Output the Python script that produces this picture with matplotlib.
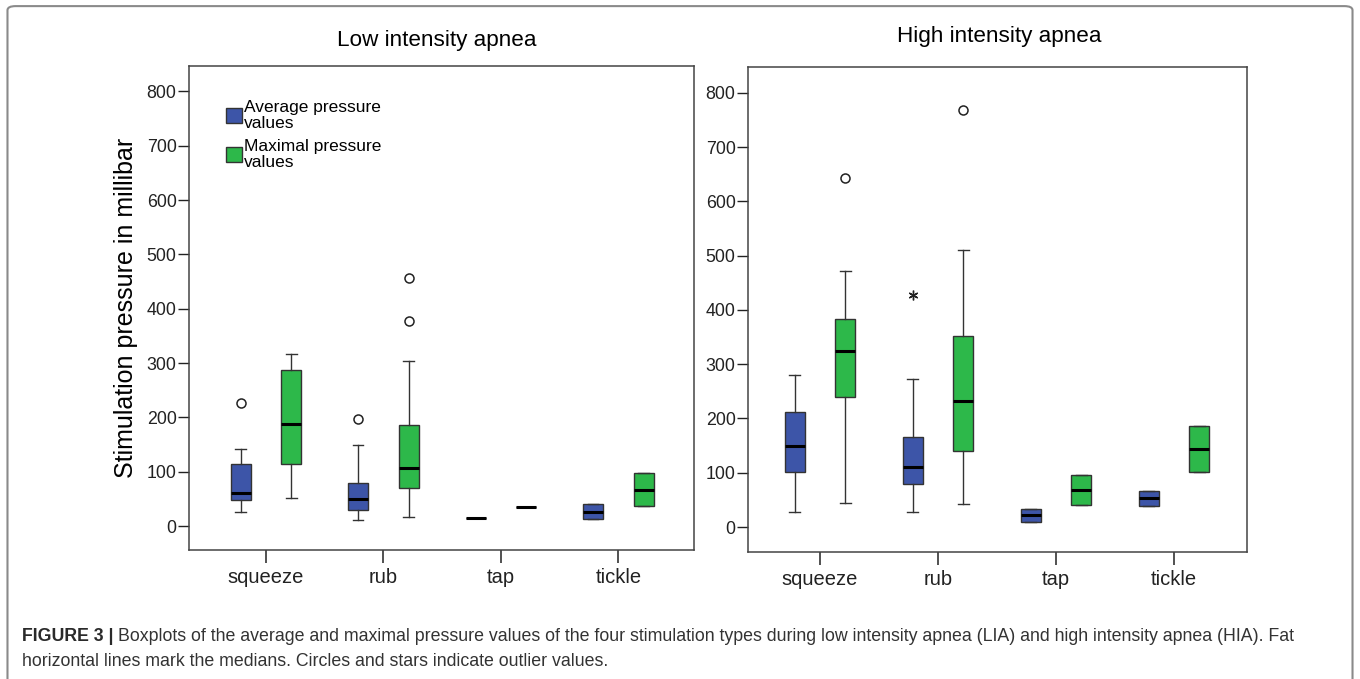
import matplotlib.pyplot as plt
from matplotlib.patches import Patch, FancyBboxPatch

plt.rcParams['font.family'] = ['Liberation Sans', 'DejaVu Sans']

categories = ["squeeze", "rub", "tap", "tickle"]
labels = ["Average pressure\nvalues", "Maximal pressure\nvalues"]

# box stats per category: (whislo, q1, med, q3, whishi)
lia_avg = [(25, 48, 61, 115, 142), (11, 29, 50, 79, 150), (15, 15, 15, 15, 15), (13, 13, 26, 40, 40)]
lia_max = [(51, 115, 187, 287, 316), (17, 71, 107, 186, 303), (36, 36, 36, 36, 36), (37, 37, 67, 97, 97)]
lia_avg_out = [[227], [197], [], []]
lia_max_out = [[], [457, 377], [], []]

hia_avg = [(28, 101, 149, 212, 280), (28, 79, 110, 165, 273), (10, 10, 22, 34, 34), (38, 38, 53, 66, 66)]
hia_max = [(44, 239, 325, 384, 471), (43, 140, 233, 351, 511), (40, 40, 68, 95, 95), (102, 102, 144, 186, 186)]
hia_avg_out = [[], [], [], []]
hia_max_out = [[643], [768], [], []]
hia_avg_star = [[], [428], [], []]

blue = '#3D55A8'
green = '#2DB84A'
edge = '#333333'


def stats(rows, outs):
    res = []
    for (lo, q1, med, q3, hi), fl in zip(rows, outs):
        res.append(dict(whislo=lo, q1=q1, med=med, q3=q3, whishi=hi, fliers=fl))
    return res


def panel(ax, avg, mx, avg_out, mx_out, star=None):
    off = 0.215
    pos = list(range(len(categories)))
    for rows, outs, col, sign in [(avg, avg_out, blue, -1), (mx, mx_out, green, 1)]:
        ax.bxp(stats(rows, outs), positions=[p + sign * off for p in pos], widths=0.17,
               patch_artist=True, manage_ticks=False,
               boxprops=dict(facecolor=col, edgecolor=edge, linewidth=1.0),
               medianprops=dict(color='black', linewidth=2.2),
               whiskerprops=dict(color=edge, linewidth=1.0),
               capprops=dict(color=edge, linewidth=1.0), capwidths=0.09,
               flierprops=dict(marker='o', markerfacecolor='none', markeredgecolor='#222222',
                               markersize=6.5, markeredgewidth=1.1))
    if star:
        for i, vals in enumerate(star):
            for v in vals:
                ax.plot(i - off, v, marker=(6, 2, 0), color='#222222', markersize=7, linewidth=0)
    ax.set_xticks(pos)
    ax.set_xticklabels(categories, fontsize=14.5)
    ax.set_yticks(range(0, 801, 100))
    ax.tick_params(axis='y', labelsize=12.8, direction='out', length=8, width=1, pad=1, colors='#222222')
    ax.tick_params(axis='x', direction='out', length=9.5, width=1.1, pad=3.5, colors='#222222')
    for s in ax.spines.values():
        s.set_color('#444444')
        s.set_linewidth(1.1)


fig = plt.figure(figsize=(13.6, 6.79), dpi=100)
ax1 = fig.add_axes([0.139, 0.190, 0.371, 0.713])
ax2 = fig.add_axes([0.550, 0.187, 0.367, 0.714])

panel(ax1, lia_avg, lia_max, lia_avg_out, lia_max_out)
panel(ax2, hia_avg, hia_max, hia_avg_out, hia_max_out, hia_avg_star)

ax1.set_xlim(-0.655, 3.64)
ax1.set_ylim(-44, 847)
ax2.set_xlim(-0.61, 3.62)
ax2.set_ylim(-46, 847)

ax1.set_ylabel("Stimulation pressure in millibar", fontsize=18, labelpad=6)

fig.text(0.321, 0.941, "Low intensity apnea", ha='center', va='center', fontsize=16.2)
fig.text(0.735, 0.946, "High intensity apnea", ha='center', va='center', fontsize=16.2)

handles = [Patch(facecolor=blue, edgecolor=edge), Patch(facecolor=green, edgecolor=edge)]
leg = ax1.legend(handles, labels, loc='upper left', bbox_to_anchor=(0.073, 0.93), frameon=False,
                 fontsize=12.5, handlelength=0.92, handleheight=0.92, handletextpad=0.12,
                 labelspacing=0.45, borderaxespad=0, borderpad=0)
for t in leg.get_texts():
    t.set_linespacing(1.12)

# outer frame, open at the bottom edge
fig.patches.append(FancyBboxPatch((0.0055, -0.05), 0.989, 1.041, boxstyle='round,pad=0,rounding_size=0.006',
                                  transform=fig.transFigure, facecolor='none', edgecolor='#8a8a8a',
                                  linewidth=1.5))

# caption
renderer = fig.canvas.get_renderer()
t = fig.text(0.0165, 0.062, "FIGURE 3 |", fontsize=12.8, fontweight='bold', va='center', color='#2a2a2a')
bb = t.get_window_extent(renderer)
x2 = (bb.x1 + 4) / fig.bbox.width
fig.text(x2, 0.062, "Boxplots of the average and maximal pressure values of the four stimulation types "
         "during low intensity apnea (LIA) and high intensity apnea (HIA). Fat",
         fontsize=12.8, va='center', color='#333333')
fig.text(0.0165, 0.0265, "horizontal lines mark the medians. Circles and stars indicate outlier values.",
         fontsize=12.8, va='center', color='#333333')

fig.savefig("out.png", dpi=100)
